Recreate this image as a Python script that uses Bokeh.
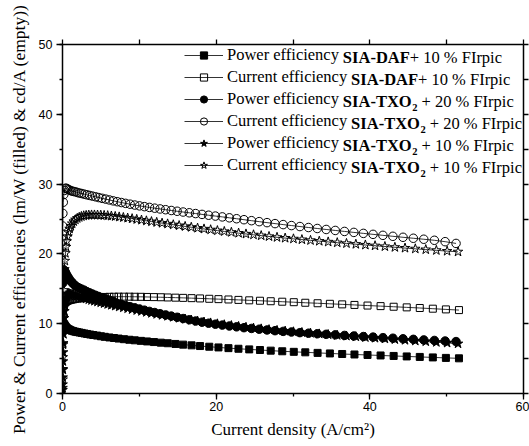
from bokeh.plotting import figure
from bokeh.models import (Range1d, LinearAxis, SingleIntervalTicker, FixedTicker,
                          Legend, LegendItem, Label)
from bokeh.embed import file_html
from bokeh.resources import INLINE

# ---------------- data ----------------
x_daf = [0.03, 0.06, 0.1, 0.15, 0.22, 0.3, 0.4, 0.52, 0.66, 0.82, 1.0, 1.2, 1.42, 1.66, 1.92,
         2.2, 2.5, 2.85, 3.2, 3.6, 4.0, 4.5, 5.0, 5.5, 6.1, 6.7, 7.3, 8.0, 8.7, 9.4, 10.2,
         11.0, 11.9, 12.8, 13.7, 14.7, 15.7, 16.8, 17.9, 19.1, 20.3, 21.6, 22.9, 24.3, 25.7,
         27.1, 28.6, 30.1, 31.6, 33.2, 34.8, 36.4, 38.0, 39.7, 41.4, 43.1, 44.8, 46.5, 48.2,
         49.9, 51.6]
pe_daf = [9.3, 9.7, 9.9, 10.0, 9.9, 9.75, 9.6, 9.45, 9.3, 9.2, 9.1, 9.0, 8.93, 8.86, 8.8,
          8.74, 8.68, 8.6, 8.53, 8.45, 8.38, 8.3, 8.2, 8.12, 8.03, 7.95, 7.87, 7.78, 7.7, 7.62, 7.54,
          7.46, 7.37, 7.28, 7.2, 7.1, 7.0, 6.9, 6.8, 6.7, 6.6, 6.5, 6.41, 6.32, 6.23,
          6.14, 6.05, 5.97, 5.9, 5.82, 5.74, 5.66, 5.59, 5.52, 5.45, 5.38, 5.31, 5.24, 5.17,
          5.1, 5.04]
ce_daf = [11.0, 11.8, 12.3, 12.6, 12.85, 13.0, 13.1, 13.2, 13.28, 13.35, 13.4, 13.45, 13.5, 13.55, 13.6,
          13.63, 13.66, 13.7, 13.72, 13.75, 13.77, 13.8, 13.82, 13.83, 13.85, 13.86, 13.87, 13.87, 13.87, 13.86, 13.85,
          13.83, 13.81, 13.79, 13.76, 13.73, 13.7, 13.66, 13.62, 13.57, 13.52, 13.47, 13.41, 13.35, 13.29,
          13.22, 13.15, 13.08, 13.0, 12.93, 12.85, 12.77, 12.69, 12.6, 12.52, 12.43, 12.34, 12.25, 12.15,
          12.05, 11.95]

x_t20 = [0.02, 0.05, 0.1, 0.17, 0.26, 0.37, 0.5, 0.65, 0.82, 1.0, 1.2, 1.42, 1.66, 1.92, 2.2,
         2.5, 2.82, 3.16, 3.52, 3.9, 4.3, 4.72, 5.16, 5.62, 6.1, 6.6, 7.12, 7.66, 8.22, 8.8,
         9.4, 10.02, 10.66, 11.32, 12.0, 12.7, 13.42, 14.16, 14.92, 15.7, 16.5, 17.32, 18.16, 19.02, 19.9,
         20.8, 21.72, 22.66, 23.62, 24.6, 25.6, 26.62, 27.66, 28.72, 29.8, 30.9, 32.02, 33.16, 34.32, 35.5,
         36.7, 37.92, 39.16, 40.42, 41.7, 43.0, 44.32, 45.66, 47.02, 48.4, 49.8, 51.22]
pe_t20 = [15.8, 16.9, 17.5, 17.7, 17.6, 17.4, 17.1, 16.8, 16.5, 16.2, 15.95, 15.7, 15.45, 15.25, 15.1,
          14.95, 14.8, 14.6, 14.42, 14.25, 14.07, 13.9, 13.73, 13.56, 13.38, 13.2, 12.9, 12.75, 12.6, 12.44,
          12.28, 12.11, 11.94, 11.76, 11.6, 11.43, 11.26, 11.09, 10.92, 10.74, 10.56, 10.38, 10.22, 10.07, 9.93,
          9.8, 9.67, 9.55, 9.43, 9.32, 9.21, 9.1, 9.0, 8.9, 8.81, 8.72, 8.64, 8.56, 8.48, 8.4,
          8.32, 8.24, 8.16, 8.08, 8.0, 7.92, 7.84, 7.76, 7.68, 7.6, 7.52, 7.44]
ce_t20 = [24.0, 25.8, 27.4, 28.5, 29.1, 29.4, 29.4, 29.3, 29.2, 29.1, 29.0, 28.95, 28.9, 28.8, 28.72,
          28.65, 28.56, 28.47, 28.38, 28.28, 28.18, 28.07, 27.96, 27.85, 27.73, 27.6, 27.48, 27.36, 27.24, 27.12,
          27.0, 26.88, 26.77, 26.66, 26.55, 26.44, 26.33, 26.22, 26.11, 26.0, 25.89, 25.78, 25.66, 25.54, 25.42,
          25.3, 25.17, 25.04, 24.9, 24.76, 24.62, 24.48, 24.34, 24.2, 24.06, 23.92, 23.78, 23.64, 23.5, 23.36,
          23.22, 23.08, 22.94, 22.8, 22.66, 22.52, 22.38, 22.24, 22.1, 21.95, 21.75, 21.5]

x_t10 = [0.01, 0.02, 0.03, 0.045, 0.06, 0.08, 0.1, 0.13, 0.16, 0.2, 0.25, 0.31, 0.38, 0.46, 0.55,
         0.66, 0.78, 0.92, 1.08, 1.26, 1.46, 1.68, 1.92, 2.18, 2.46, 2.76, 3.08, 3.42, 3.78, 4.16,
         4.56, 4.98, 5.42, 5.88, 6.36, 6.86, 7.38, 7.92, 8.48, 9.06, 9.66, 10.28, 10.92, 11.58, 12.26,
         12.96, 13.68, 14.42, 15.18, 15.96, 16.76, 17.58, 18.42, 19.28, 20.16, 21.06, 21.98, 22.92, 23.88, 24.86,
         25.86, 26.88, 27.92, 28.98, 30.06, 31.16, 32.28, 33.42, 34.58, 35.76, 36.96, 38.18, 39.42, 40.68, 41.96,
         43.26, 44.58, 45.92, 47.28, 48.66, 50.06, 51.48]
pe_t10 = [0.5, 1.3, 2.3, 3.4, 4.6, 5.9, 7.2, 8.5, 9.7, 10.8, 11.8, 12.6, 13.2, 13.7, 14.0,
          14.2, 14.3, 14.3, 14.25, 14.2, 14.12, 14.04, 13.95, 13.86, 13.77, 13.67, 13.57, 13.46, 13.35, 13.24,
          13.13, 13.02, 12.9, 12.78, 12.66, 12.54, 12.42, 12.3, 12.17, 12.04, 11.91, 11.78, 11.64, 11.5, 11.36,
          11.22, 11.08, 10.94, 10.8, 10.66, 10.52, 10.38, 10.24, 10.11, 9.98, 9.85, 9.73, 9.61, 9.49, 9.37,
          9.26, 9.15, 9.04, 8.94, 8.84, 8.74, 8.64, 8.54, 8.44, 8.34, 8.24, 8.14, 8.04, 7.94, 7.84,
          7.74, 7.64, 7.54, 7.44, 7.34, 7.24, 7.14]
ce_t10 = [0.8, 2.0, 3.5, 5.2, 7.0, 9.0, 11.0, 13.0, 14.8, 16.4, 17.8, 19.0, 20.1, 21.0, 21.8,
          22.5, 23.1, 23.6, 24.0, 24.35, 24.65, 24.9, 25.1, 25.25, 25.37, 25.46, 25.52, 25.56, 25.58, 25.58,
          25.57, 25.55, 25.52, 25.48, 25.43, 25.37, 25.3, 25.22, 25.14, 25.05, 24.95, 24.85, 24.74, 24.63, 24.52,
          24.41, 24.3, 24.18, 24.06, 23.94, 23.82, 23.7, 23.58, 23.46, 23.34, 23.22, 23.1, 22.98, 22.86, 22.74,
          22.62, 22.5, 22.38, 22.27, 22.16, 22.05, 21.94, 21.83, 21.72, 21.61, 21.5, 21.39, 21.28, 21.17, 21.06,
          20.95, 20.84, 20.73, 20.62, 20.51, 20.4, 20.3]

legend_prefix = ["Power efficiency", "Current efficiency", "Power efficiency",
                 "Current efficiency", "Power efficiency", "Current efficiency"]
legend_bold = ["SIA-DAF", "SIA-DAF", "SIA-TXO", "SIA-TXO", "SIA-TXO", "SIA-TXO"]
legend_sub = ["", "", "2", "2", "2", "2"]
legend_tail = ["+ 10 % FIrpic", "+ 10 % FIrpic", "+ 20 % FIrpic",
               "+ 20 % FIrpic", "+ 10 % FIrpic", "+ 10 % FIrpic"]

x_max, y_max = 60, 50
x_ticks_interval = 20
y_ticks_interval = 10
x_title = "Current density (A/cm²)"
y_title = "Power & Current efficiencies (lm/W (filled) & cd/A (empty))"

# ---------------- figure ----------------
W, H = 529, 446
TOP, BOTTOM, LEFT, RIGHT = 44, 53, 62, 6
p = figure(width=W, height=H, output_backend="svg", toolbar_location=None,
           x_range=Range1d(0, x_max), y_range=Range1d(0, y_max),
           x_axis_type=None, y_axis_type=None,
           min_border_left=LEFT, min_border_right=RIGHT,
           min_border_top=TOP, min_border_bottom=BOTTOM)
p.grid.visible = False
p.outline_line_color = None
p.background_fill_color = "white"
p.border_fill_color = "white"

SERIF = "Liberation Serif"
SANS = "Liberation Sans"


def style_axis(ax):
    ax.axis_line_width = 1.5
    ax.axis_line_color = "black"
    ax.major_tick_line_width = 1.3
    ax.minor_tick_line_width = 1.3
    ax.major_tick_in = 0
    ax.major_tick_out = 6
    ax.minor_tick_in = 0
    ax.minor_tick_out = 3
    ax.major_label_text_font = SANS
    ax.major_label_text_font_size = "12.5px"
    ax.major_label_text_color = "black"


xb = LinearAxis(ticker=SingleIntervalTicker(interval=x_ticks_interval, num_minor_ticks=2))
style_axis(xb)
xb.major_label_standoff = 2
xb.axis_label = x_title
xb.axis_label_text_font = SERIF
xb.axis_label_text_font_size = "17px"
xb.axis_label_text_font_style = "normal"
xb.axis_label_text_color = "black"
xb.axis_label_standoff = 6
p.add_layout(xb, "below")

yl = LinearAxis(ticker=SingleIntervalTicker(interval=y_ticks_interval, num_minor_ticks=2))
style_axis(yl)
yl.major_label_standoff = 4
yl.axis_label = y_title
yl.axis_label_text_font = SERIF
yl.axis_label_text_font_size = "17.5px"
yl.axis_label_text_font_style = "normal"
yl.axis_label_text_color = "black"
yl.axis_label_standoff = 7
p.add_layout(yl, "left")

# top / right frame axes: tick marks only, no labels
top_ticks = list(range(0, x_max + 1, x_ticks_interval // 2))
right_ticks = list(range(0, y_max + 1, y_ticks_interval // 2))
xt = LinearAxis(ticker=FixedTicker(ticks=[], minor_ticks=top_ticks))
yr = LinearAxis(ticker=FixedTicker(ticks=[], minor_ticks=right_ticks))
for ax in (xt, yr):
    style_axis(ax)
    ax.minor_tick_out = 5
    ax.major_label_standoff = 0
p.add_layout(xt, "above")
p.add_layout(yr, "right")

# ---------------- series ----------------
series = [
    (x_daf, pe_daf, "square", 7, "black"),
    (x_daf, ce_daf, "square", 7, None),
    (x_t20, pe_t20, "circle", 8.5, "black"),
    (x_t20, ce_t20, "circle", 8.5, None),
    (x_t10, pe_t10, "star", 10, "black"),
    (x_t10, ce_t10, "star", 10, None),
]
items = []
for k, (xs, ys, mk, sz, fill) in enumerate(series):
    rl = p.line(xs, ys, line_color="black", line_width=0.8)
    rs = p.scatter(xs, ys, marker=mk, size=sz, fill_color=fill, line_color="black", line_width=1)
    items.append(LegendItem(label=legend_prefix[k], renderers=[rl, rs]))

FS = 16.5
PAD = 6
GLYPH_W = 39
STANDOFF = 4
LABEL_H = 21
SPACING = 1
ROW_PITCH = LABEL_H + SPACING
leg = Legend(items=items, location="top_right", margin=0, padding=PAD, spacing=SPACING,
             glyph_width=GLYPH_W, glyph_height=18, label_height=LABEL_H,
             label_width=296,
             label_standoff=STANDOFF, label_text_font=SERIF, label_text_font_size=f"{FS}px",
             label_text_color="black", label_text_baseline="middle",
             background_fill_alpha=0, border_line_color=None)
p.add_layout(leg)

# ---------------- bold / subscript legend parts (Times metrics for positions) ----------------
REG = {' ': 250, 'P': 556, 'o': 500, 'w': 722, 'e': 444, 'r': 333, 'f': 333, 'i': 278, 'c': 444,
       'n': 500, 'y': 500, 'C': 667, 'u': 500, 't': 278, '+': 564, '1': 500, '0': 500, '2': 500,
       '%': 833, 'F': 556, 'I': 333, 'p': 500}
BOLD = {'S': 556, 'I': 389, 'A': 722, '-': 333, 'D': 722, 'F': 611, 'T': 667, 'X': 722, 'O': 778, '2': 500}


def tw(s, fs, table):
    return sum(table.get(ch, 500) for ch in s) * fs / 1000.0


frame_h = H - TOP - BOTTOM
SUBFS = 10.5
first_row = 13                  # centre of first legend row, pixels below the frame top
x0 = 226 - LEFT                 # where the legend labels start
for i in range(6):
    y = frame_h - (first_row + i * ROW_PITCH)
    bx = x0 + tw(legend_prefix[i] + " ", FS, REG)
    p.add_layout(Label(x=bx, y=y, x_units="screen", y_units="screen", text=legend_bold[i],
                       text_font=SERIF, text_font_size=f"{FS}px", text_font_style="bold",
                       text_baseline="middle", text_align="left", text_color="black"))
    ex = bx + tw(legend_bold[i], FS, BOLD)
    if legend_sub[i]:
        p.add_layout(Label(x=ex + 0.5, y=y - 6, x_units="screen", y_units="screen", text=legend_sub[i],
                           text_font=SERIF, text_font_size=f"{SUBFS}px", text_font_style="bold",
                           text_baseline="middle", text_align="left", text_color="black"))
        ex = ex + 0.5 + tw(legend_sub[i], SUBFS, BOLD) + tw(" ", FS, REG)
    p.add_layout(Label(x=ex, y=y, x_units="screen", y_units="screen", text=legend_tail[i],
                       text_font=SERIF, text_font_size=f"{FS}px", text_baseline="middle",
                       text_align="left", text_color="black"))

open("out.html", "w").write(file_html(p, INLINE))
